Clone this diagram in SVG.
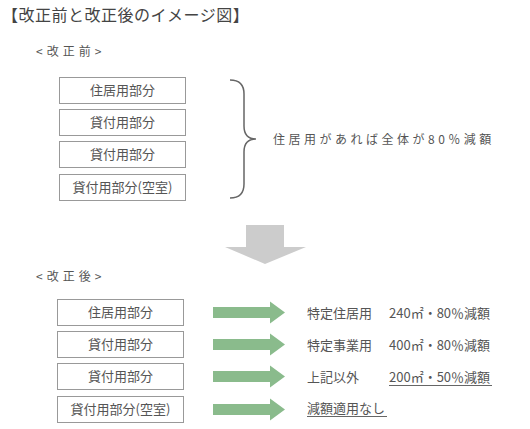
<svg xmlns="http://www.w3.org/2000/svg" width="530" height="429" viewBox="0 0 530 429">
<style>
text{font-family:"Noto Sans CJK JP","Noto Sans",sans-serif;fill:#555}
.title{font-size:16px;fill:#444;letter-spacing:0.5px}
.sub{font-size:12px;letter-spacing:3px}
.box rect{fill:#fff;stroke:#999;stroke-width:1}
.box text{font-size:13px;text-anchor:middle}
.lbl{font-size:13px}
.brace{fill:none;stroke:#666;stroke-width:1.5}
.garrow{fill:#8abb8c}
.ul{stroke:#666;stroke-width:1}
</style>
<rect width="530" height="429" fill="#fff"/>
<text class="title" x="2" y="21">【改正前と改正後のイメージ図】</text>
<text class="sub" x="36" y="56" style="letter-spacing:4px">&lt;改正前&gt;</text>

<g id="before-1" class="box"><rect x="59.5" y="77.5" width="126" height="26"/><text x="122.5" y="95">住居用部分</text></g>
<g id="before-2" class="box"><rect x="59.5" y="109.5" width="126" height="26"/><text x="122.5" y="127">貸付用部分</text></g>
<g id="before-3" class="box"><rect x="59.5" y="141.5" width="126" height="26"/><text x="122.5" y="159">貸付用部分</text></g>
<g id="before-4" class="box"><rect x="59.5" y="174.5" width="126" height="26"/><text x="122.5" y="192">貸付用部分(空室)</text></g>

<g id="brace"><path class="brace" d="M230,80 Q244,80 244,94 L244,126 Q244,139 256,139 Q244,139 244,152 L244,184 Q244,198 230,198"/></g>
<text class="sub" x="273" y="144" style="letter-spacing:3.5px">住居用があれば全体が80％減額</text>

<g id="down-arrow"><polygon points="246,225 284,225 284,247 306,247 265,264 225,247 246,247" fill="#cccccc"/></g>

<text class="sub" x="36" y="281" style="letter-spacing:4px">&lt;改正後&gt;</text>

<g id="after-1" class="box"><rect x="57.5" y="299.5" width="126" height="26"/><text x="120.5" y="317">住居用部分</text></g>
<g id="after-2" class="box"><rect x="57.5" y="331.5" width="126" height="26"/><text x="120.5" y="349">貸付用部分</text></g>
<g id="after-3" class="box"><rect x="57.5" y="363.5" width="126" height="26"/><text x="120.5" y="381">貸付用部分</text></g>
<g id="after-4" class="box"><rect x="57.5" y="396.5" width="126" height="26"/><text x="120.5" y="414">貸付用部分(空室)</text></g>

<g id="connectors">
<polygon class="garrow" points="213,307 270,307 270,301.5 285,312.5 270,323.5 270,318 213,318"/>
<polygon class="garrow" points="213,339 270,339 270,333.5 285,344.5 270,355.5 270,350 213,350"/>
<polygon class="garrow" points="213,371 270,371 270,365.5 285,376.5 270,387.5 270,382 213,382"/>
<polygon class="garrow" points="213,404 270,404 270,398.5 285,409.5 270,420.5 270,415 213,415"/>
</g>

<g id="result-1"><text class="lbl" x="307" y="318">特定住居用</text><text class="lbl" x="389" y="318">240㎡・80％減額</text></g>
<g id="result-2"><text class="lbl" x="307" y="350">特定事業用</text><text class="lbl" x="389" y="350">400㎡・80％減額</text></g>
<g id="result-3"><text class="lbl" x="307" y="382">上記以外</text><text class="lbl" x="389" y="382">200㎡・50％減額</text><line class="ul" x1="389" y1="385.5" x2="492" y2="385.5"/></g>
<g id="result-4"><text class="lbl" x="307" y="413">減額適用なし</text><line class="ul" x1="307" y1="416.5" x2="387" y2="416.5"/></g>
</svg>
